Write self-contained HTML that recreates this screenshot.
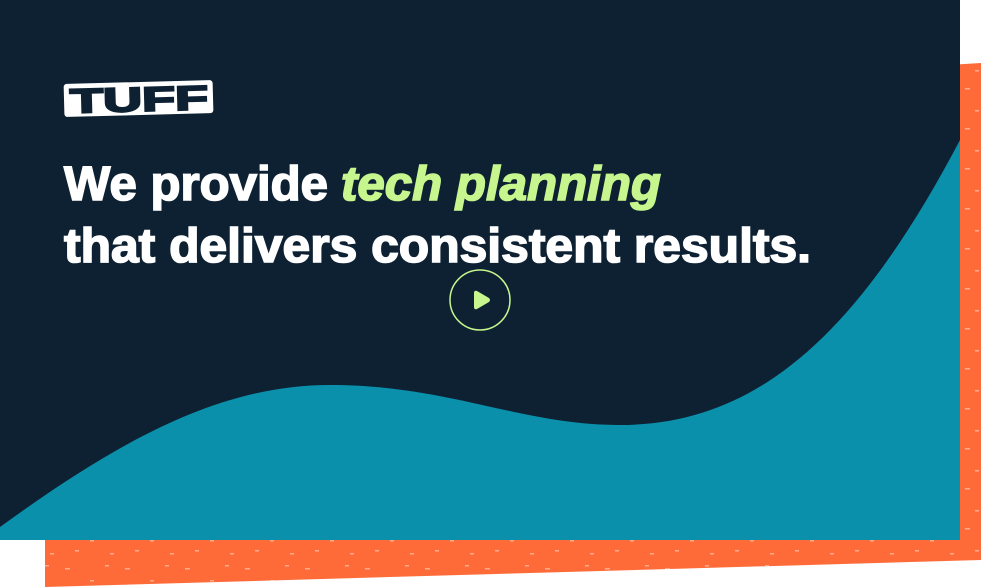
<!DOCTYPE html>
<html><head><meta charset="utf-8"><style>
html,body{margin:0;padding:0;background:#fff;width:981px;height:587px;overflow:hidden}
</style></head><body>
<svg width="981" height="587" viewBox="0 0 981 587" xmlns="http://www.w3.org/2000/svg">
<defs>
<pattern id="sp" width="60" height="40" patternUnits="userSpaceOnUse">
<rect width="60" height="40" fill="#ff6b38"/>
<g fill="#ffc9ae" opacity="0.7">
<rect x="5" y="8" width="5" height="1.5"/><rect x="30" y="20" width="4" height="1.5"/>
<rect x="45" y="5" width="4" height="1.5"/><rect x="15" y="30" width="4" height="1.5"/>
<rect x="50" y="33" width="4" height="1.5"/>
</g>
</pattern>
</defs>
<polygon points="45,120 981,63 981,560 45,587" fill="url(#sp)"/>
<rect x="0" y="0" width="960" height="540" fill="#0d2133"/>
<path d="M0,527 C120,440 220,385 330,385 C450,385 520,425 620,425 C760,425 860,330 960,140 L960,540 L0,540 Z" fill="#0b90ab"/>
<g transform="rotate(-1.5 140 98)">
<rect x="64" y="82" width="149" height="33" rx="3" fill="#fff"/>
<text x="70" y="111" font-family="Liberation Sans, sans-serif" font-weight="bold" font-size="34" fill="#0d2133" stroke="#0d2133" stroke-width="2" textLength="138" lengthAdjust="spacingAndGlyphs">TUFF</text>
</g>
<g font-family="Liberation Sans, sans-serif" font-weight="bold" font-size="48" stroke-width="1.6">
<text x="64" y="200" fill="#fff" stroke="#fff" textLength="264" lengthAdjust="spacingAndGlyphs">We provide</text>
<text x="341" y="200" font-style="italic" fill="#c6f68d" stroke="#c6f68d" textLength="320" lengthAdjust="spacingAndGlyphs">tech planning</text>
<text x="64" y="262" fill="#fff" stroke="#fff" textLength="747" lengthAdjust="spacingAndGlyphs">that delivers consistent results.</text>
</g>
<circle cx="480" cy="300" r="30" fill="none" stroke="#c6f68d" stroke-width="1.5"/>
<path d="M474,293 Q474,290 477,291 L489,298 Q491,300 489,302 L477,309 Q474,310 474,307 Z" fill="#c6f68d"/>
</svg>
</body></html>
